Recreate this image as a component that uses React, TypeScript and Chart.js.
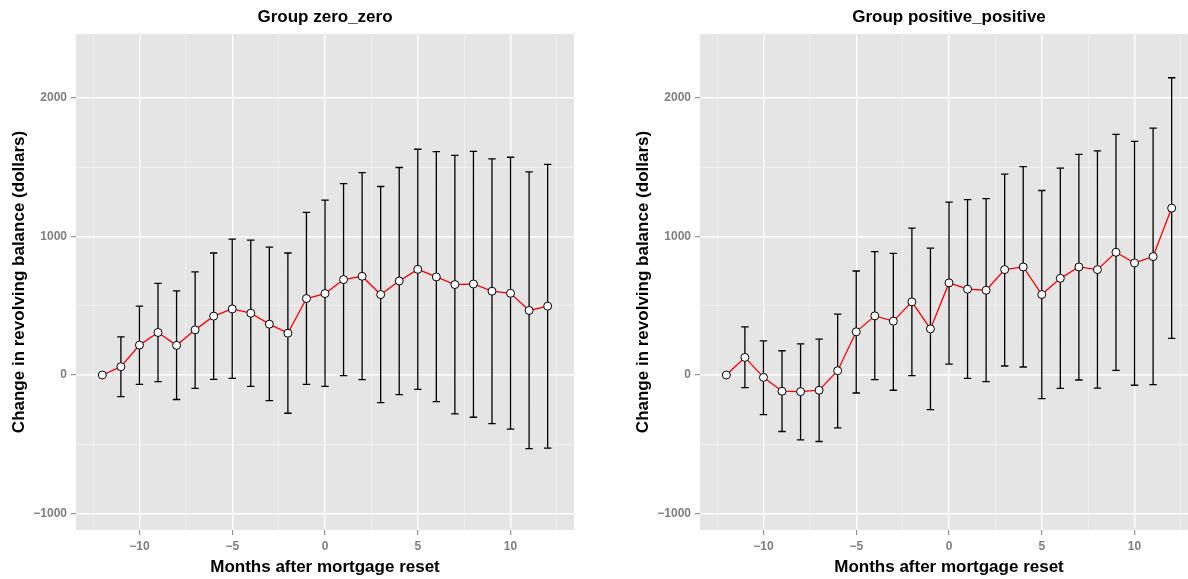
import { useEffect, useRef } from 'react';
import { Chart, registerables } from 'chart.js';

Chart.register(...registerables);

const months = [-12, -11, -10, -9, -8, -7, -6, -5, -4, -3, -2, -1, 0, 1, 2, 3, 4, 5, 6, 7, 8, 9, 10, 11, 12];

const zeroMean = [0, 60, 216, 307, 214, 326, 425, 477, 446, 367, 302, 552, 588, 689, 713, 581, 679, 763, 708, 653, 657, 605, 590, 466, 497];
const zeroLower = [null, -156, -67, -48, -177, -96, -31, -24, -82, -185, -276, -67, -82, -5, -34, -199, -142, -103, -192, -281, -305, -351, -391, -531, -528];
const zeroUpper = [null, 276, 497, 662, 607, 744, 881, 981, 974, 924, 881, 1174, 1262, 1382, 1461, 1361, 1498, 1630, 1613, 1586, 1615, 1560, 1572, 1467, 1521];

const posMean = [0, 127, -17, -117, -120, -110, 31, 312, 427, 389, 528, 333, 665, 620, 612, 761, 780, 581, 698, 780, 761, 886, 809, 855, 1205];
const posLower = [null, -91, -286, -408, -468, -480, -382, -130, -34, -110, -5, -250, 78, -24, -48, 65, 58, -170, -96, -36, -94, 34, -74, -70, 264];
const posUpper = [null, 348, 247, 175, 225, 259, 439, 751, 891, 878, 1060, 916, 1248, 1266, 1274, 1451, 1505, 1332, 1493, 1593, 1618, 1737, 1687, 1783, 2146];

const xTicks = [-12.5, -10, -7.5, -5, -2.5, 0, 2.5, 5, 7.5, 10, 12.5];
const yTicks = [-1000, -500, 0, 500, 1000, 1500, 2000];

const X_MIN = -13.42;
const X_MAX = 13.42;
const Y_MIN = -1119;
const Y_MAX = 2462;
const CAP = 0.2;

const FONT = 'Liberation Sans, Arial, Helvetica, sans-serif';

function fmt(v: number): string {
  return v < 0 ? '\u2212' + Math.abs(v) : String(v);
}

function Panel({ title, mean, lower, upper, left }: { title: string; mean: number[]; lower: (number | null)[]; upper: (number | null)[]; left: number }) {
  const ref = useRef<HTMLCanvasElement>(null);
  useEffect(() => {
    const errData: any[] = [];
    months.forEach((m, i) => {
      const lo = lower[i];
      const hi = upper[i];
      if (lo === null || hi === null) return;
      errData.push({ x: m, y: lo }, { x: m, y: hi }, { x: m, y: null });
      errData.push({ x: m - CAP, y: hi }, { x: m + CAP, y: hi }, { x: m, y: null });
      errData.push({ x: m - CAP, y: lo }, { x: m + CAP, y: lo }, { x: m, y: null });
    });
    const bg = {
      id: 'panelBg',
      beforeDraw(chart: any) {
        const { ctx, chartArea } = chart;
        ctx.save();
        ctx.fillStyle = '#e5e5e5';
        ctx.fillRect(chartArea.left, chartArea.top, chartArea.right - chartArea.left, chartArea.bottom - chartArea.top);
        ctx.restore();
      },
    };
    const chart = new Chart(ref.current as HTMLCanvasElement, {
      type: 'scatter',
      data: {
        datasets: [
          {
            data: months.map((m, i) => ({ x: m, y: mean[i] })),
            showLine: true,
            borderColor: '#ff0000',
            borderWidth: 1.3,
            pointRadius: 4,
            pointBorderWidth: 1,
            pointBackgroundColor: '#ffffff',
            pointBorderColor: '#000000',
            order: 0,
          },
          {
            data: errData,
            showLine: true,
            spanGaps: false,
            borderColor: '#000000',
            borderWidth: 1.3,
            pointRadius: 0,
            order: 1,
          },
        ] as any,
      },
      options: {
        animation: false,
        responsive: false,
        layout: { padding: { left: 0, right: 20, top: 0, bottom: 0 } },
        plugins: {
          legend: { display: false },
          tooltip: { enabled: false },
          title: {
            display: true,
            text: title,
            fullSize: false,
            color: '#000000',
            font: { family: FONT, size: 17, weight: 'bold', lineHeight: 1.2 },
            padding: { top: 6.8, bottom: 6.8 },
          } as any,
        },
        scales: {
          x: {
            type: 'linear',
            min: X_MIN,
            max: X_MAX,
            afterBuildTicks: (s: any) => {
              s.ticks = xTicks.map((v) => ({ value: v }));
            },
            afterFit: (s: any) => {
              s.height = 49;
            },
            border: { display: false },
            grid: {
              color: (c: any) => (c.tick && c.tick.value % 5 === 0 ? '#ffffff' : '#f2f2f2'),
              lineWidth: (c: any) => (c.tick && c.tick.value % 5 === 0 ? 1.4 : 0.8),
              tickColor: (c: any) => (c.tick && c.tick.value % 5 === 0 ? '#7f7f7f' : 'rgba(0,0,0,0)'),
              tickWidth: 1,
              tickLength: 5,
            },
            ticks: {
              autoSkip: false,
              maxRotation: 0,
              padding: 4,
              color: '#7f7f7f',
              font: { family: FONT, size: 12, weight: 'bold' },
              callback: (v: any) => (Number(v) % 5 === 0 ? fmt(Number(v)) : ''),
            },
            title: {
              display: true,
              text: 'Months after mortgage reset',
              color: '#000000',
              font: { family: FONT, size: 17, weight: 'bold', lineHeight: 1.2 },
              padding: { top: 0, bottom: 1.8 },
            },
          },
          y: {
            type: 'linear',
            min: Y_MIN,
            max: Y_MAX,
            afterBuildTicks: (s: any) => {
              s.ticks = yTicks.map((v) => ({ value: v }));
            },
            afterFit: (s: any) => {
              s.width = 76;
            },
            border: { display: false },
            grid: {
              color: (c: any) => (c.tick && c.tick.value % 1000 === 0 ? '#ffffff' : '#f2f2f2'),
              lineWidth: (c: any) => (c.tick && c.tick.value % 1000 === 0 ? 1.4 : 0.8),
              tickColor: (c: any) => (c.tick && c.tick.value % 1000 === 0 ? '#7f7f7f' : 'rgba(0,0,0,0)'),
              tickWidth: 1,
              tickLength: 5,
            },
            ticks: {
              autoSkip: false,
              padding: 4,
              color: '#7f7f7f',
              font: { family: FONT, size: 12, weight: 'bold' },
              callback: (v: any) => (Number(v) % 1000 === 0 ? fmt(Number(v)) : ''),
            },
            title: {
              display: true,
              text: 'Change in revolving balance (dollars)',
              color: '#000000',
              font: { family: FONT, size: 17, weight: 'bold', lineHeight: 1.2 },
              padding: { top: 9, bottom: 0 },
            },
          },
        },
      } as any,
      plugins: [bg],
    });
    return () => chart.destroy();
  }, []);
  return (
    <canvas
      ref={ref}
      width={594}
      height={579}
      style={{ position: 'absolute', left, top: 0, width: 594, height: 579 }}
    />
  );
}

export default function App() {
  return (
    <div style={{ position: 'fixed', left: 0, top: 0, width: 1188, height: 579, overflow: 'hidden', background: '#ffffff' }}>
      <Panel title="Group zero_zero" mean={zeroMean} lower={zeroLower} upper={zeroUpper} left={0} />
      <Panel title="Group positive_positive" mean={posMean} lower={posLower} upper={posUpper} left={624} />
    </div>
  );
}
